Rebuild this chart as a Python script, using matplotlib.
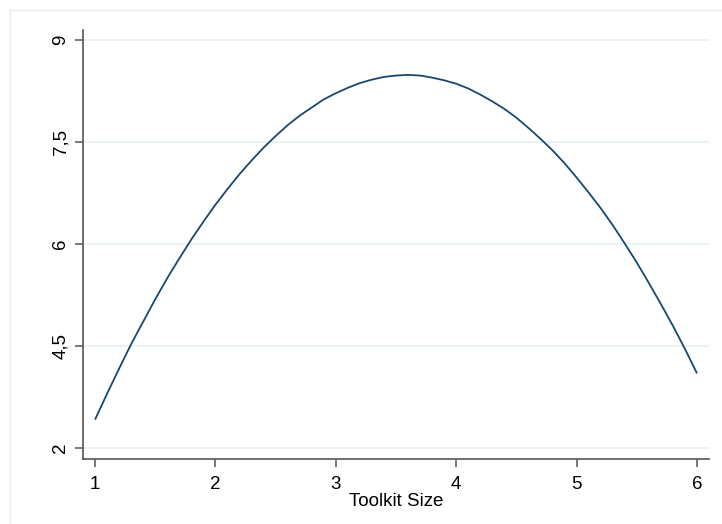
import matplotlib.pyplot as plt
from matplotlib.lines import Line2D

# values (every 0.1 along the x axis)
toolkit_size = [1.0, 1.1, 1.2, 1.3, 1.4, 1.5, 1.6, 1.7, 1.8, 1.9,
                2.0, 2.1, 2.2, 2.3, 2.4, 2.5, 2.6, 2.7, 2.8, 2.9,
                3.0, 3.1, 3.2, 3.3, 3.4, 3.5, 3.6, 3.7, 3.8, 3.9,
                4.0, 4.1, 4.2, 4.3, 4.4, 4.5, 4.6, 4.7, 4.8, 4.9,
                5.0, 5.1, 5.2, 5.3, 5.4, 5.5, 5.6, 5.7, 5.8, 5.9, 6.0]
prediction = [3.42, 3.80, 4.17, 4.53, 4.86, 5.19, 5.50, 5.79, 6.07, 6.33,
              6.58, 6.81, 7.03, 7.23, 7.42, 7.59, 7.75, 7.89, 8.01, 8.13,
              8.22, 8.30, 8.37, 8.42, 8.46, 8.48, 8.49, 8.48, 8.45, 8.41,
              8.36, 8.29, 8.20, 8.10, 7.99, 7.86, 7.71, 7.55, 7.38, 7.19,
              6.98, 6.76, 6.53, 6.28, 6.01, 5.73, 5.43, 5.12, 4.80, 4.46, 4.10]

x_ticks = [1, 2, 3, 4, 5, 6]
y_ticks = [3, 4.5, 6, 7.5, 9]
y_tick_labels = ["2", "4,5", "6", "7,5", "9"]

LINE = "#1a476f"
GRID = "#eaf2f3"
SPINE = "#555555"


def main():
    plt.rcParams["font.family"] = ["Liberation Sans", "DejaVu Sans"]

    fig = plt.figure(figsize=(7.22, 5.24), dpi=100, facecolor="white")

    # faint outer frame (top and left edges visible)
    fig.add_artist(Line2D([10 / 722, 1], [1 - 10 / 524] * 2, color="#e6ecee",
                          linewidth=1, transform=fig.transFigure))
    fig.add_artist(Line2D([10 / 722] * 2, [0, 1 - 10 / 524], color="#e6ecee",
                          linewidth=1, transform=fig.transFigure))

    ax = fig.add_axes([83 / 722, 1 - 459 / 524, 626 / 722, 429 / 524])

    ax.plot(toolkit_size, prediction, color=LINE, linewidth=1.3,
            solid_joinstyle="round", solid_capstyle="butt")

    ax.set_xlim(0.90, 6.10)
    ax.set_ylim(2.84, 9.15)

    ax.set_xticks(x_ticks)
    ax.set_yticks(y_ticks)
    ax.set_yticklabels(y_tick_labels, rotation=90, va="center")

    ax.grid(axis="y", color=GRID, linewidth=1.4)
    ax.set_axisbelow(True)

    for side in ["top", "right"]:
        ax.spines[side].set_visible(False)
    for side in ["left", "bottom"]:
        ax.spines[side].set_color(SPINE)
        ax.spines[side].set_linewidth(1.2)

    ax.tick_params(axis="both", colors=SPINE, length=6, width=1.1,
                   labelsize=13.5, labelcolor="black")
    ax.tick_params(axis="x", pad=6)
    ax.tick_params(axis="y", pad=4)

    ax.set_xlabel("Toolkit Size", fontsize=13.5, labelpad=0)

    fig.savefig("out.png", dpi=100, facecolor="white")


if __name__ == "__main__":
    main()
